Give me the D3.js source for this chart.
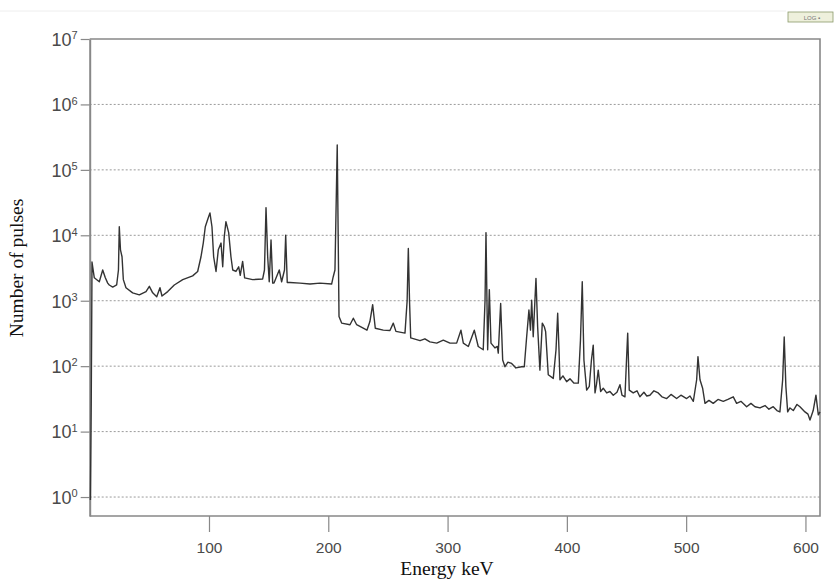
<!DOCTYPE html>
<html lang="en">
<head>
    <meta charset="UTF-8">
    <title>Gamma spectrum</title>
    <script src="https://d3js.org/d3.v7.min.js"></script>
    <style>
        body {
            margin: 0;
            background: #fff;
        }
        .tick text {
            font-family: 'Liberation Sans', Arial, sans-serif;
            fill: #4a4a4a;
        }
        .axis-title {
            font-family: 'Liberation Serif', 'Times New Roman', serif;
            font-size: 19.5px;
            fill: #111;
        }
    </style>
</head>
<body>
    <svg id="chart" width="834" height="580"></svg>

    <script>
        // spectrum: energy (keV) and number of pulses
        const energy = [
            0.6, 1.3, 1.8, 1.93, 3.86, 8.05, 10.9, 13.1, 15.1, 16.4, 19.3, 22.6, 24.1, 24.8, 25.8, 27.1, 28.2, 30.4,
            36.0, 41.6, 47.2, 50.0, 52.8, 56.2, 58.9, 60.6, 65.4, 70.9, 78.0, 86.3, 90.5, 93.3, 95.2, 96.9, 98.9,
            100.8, 102.5, 103.9, 105.9, 107.8, 110.1, 111.5, 112.8, 114.2, 116.5, 118.4, 119.9, 122.6, 124.9, 126.2,
            128.2, 129.9, 136.6, 145.0, 146.5, 147.8, 149.2, 150.5, 152.0, 153.4, 154.5, 158.9, 160.9, 163.3, 164.3,
            165.6, 167.9, 176.3, 184.7, 193.0, 202.8, 204.2, 205.6, 207.5, 209.0, 211.2, 218.2, 221.0, 223.8, 229.3,
            232.4, 234.9, 237.2, 239.4, 246.1, 251.7, 254.5, 256.7, 264.3, 266.1, 267.1, 268.1, 269.1, 276.9, 281.0,
            285.2, 290.9, 296.4, 302.0, 307.6, 311.2, 313.2, 317.4, 322.4, 325.7, 329.9, 331.4, 332.2, 333.6, 335.0,
            336.4, 339.7, 341.7, 342.5, 344.5, 346.2, 348.1, 350.6, 353.7, 357.3, 362.1, 364.3, 366.3, 368.2, 369.5,
            370.5, 371.8, 374.1, 375.5, 377.4, 379.4, 381.1, 382.2, 384.4, 388.6, 390.9, 392.3, 393.4, 394.2, 396.7,
            399.8, 402.6, 406.0, 409.6, 411.4, 412.9, 414.3, 416.6, 418.8, 420.6, 422.1, 423.6, 424.8, 426.3, 428.3,
            430.5, 433.4, 436.1, 438.9, 442.0, 444.5, 446.2, 448.7, 450.0, 451.0, 452.3, 455.6, 458.8, 461.2, 464.6,
            467.0, 469.6, 473.0, 476.6, 479.7, 483.7, 487.3, 492.0, 495.6, 500.4, 503.2, 506.0, 508.8, 509.9, 511.6,
            513.8, 515.8, 519.1, 522.7, 526.7, 531.1, 535.0, 539.5, 542.3, 545.9, 550.7, 554.3, 557.7, 561.9, 566.1,
            569.4, 573.0, 576.1, 578.6, 580.9, 582.2, 583.6, 585.1, 587.0, 589.8, 592.9, 595.4, 599.6, 602.1, 603.8,
            606.5, 608.8, 610.8, 612.2
        ];
        const counts = [
            0.9, 30, 1200, 3900, 2240, 1950, 2950, 2240, 1860, 1740, 1620, 1740, 2950, 13500, 6000, 4700, 2100, 1580,
            1320, 1230, 1380, 1660, 1320, 1150, 1580, 1180, 1380, 1740, 2100, 2400, 2800, 4700, 7600, 13500, 17400,
            22000, 13500, 4700, 2800, 6000, 7600, 3300, 9500, 16200, 11000, 4700, 2950, 2800, 3300, 2450,
            4000, 2240, 2100, 2150, 2950, 26500, 4700, 1950, 8500, 1860, 1860, 2950, 1950, 2950, 10000,
            1900, 1900, 1860, 1800, 1860, 1800, 2350, 2950, 240000, 575, 455, 430, 540, 430, 380,
            355, 480, 870, 380, 355, 350, 455, 340, 320, 1000, 6300, 1000, 270, 245, 262,
            235, 225, 250, 225, 225, 355, 225, 200, 355, 200, 178, 1000, 11000, 178, 1480,
            225, 190, 200, 158, 910, 124, 98, 115, 110, 94, 98, 98, 282, 720, 355,
            1020, 282, 2200, 400, 87, 455, 400, 337, 74, 65, 178, 645, 178, 62, 71,
            58, 64, 55, 55, 250, 1950, 124, 43, 49, 124, 210, 39, 52, 87, 41,
            46, 39, 41, 36, 40, 52, 36, 34, 124, 320, 43, 39, 42, 34, 40,
            35, 36, 42, 39, 34, 32, 37, 32, 36, 32, 35, 29, 62, 140, 62,
            46, 27, 30, 27, 31, 29, 31, 34, 27, 29, 24, 27, 24, 23, 25,
            22, 24, 21, 20, 62, 280, 49, 20, 23, 21, 26, 24, 20, 18.5, 15,
            21, 36, 18, 20
        ];

        const xTicks = [100, 200, 300, 400, 500, 600];
        const yExponents = [0, 1, 2, 3, 4, 5, 6, 7];

        const svg = d3.select("#chart");

        const x = d3.scaleLinear()
                    .domain([0, 612.2])
                    .range([89.7, 820]);

        const y = d3.scaleLog()
                    .domain([0.513, 1e7])
                    .range([516, 39]);

        // faint toolbar line and the LOG box in the corner
        svg.append("line")
           .attr("x1", 0).attr("x2", 786)
           .attr("y1", 11).attr("y2", 11)
           .attr("stroke", "#eeeeee");

        svg.append("rect")
           .attr("x", 788).attr("y", 12)
           .attr("width", 45).attr("height", 10)
           .attr("fill", "#eef0dc")
           .attr("stroke", "#8a9a6a")
           .attr("stroke-width", 0.8);

        svg.append("text")
           .attr("x", 812).attr("y", 20)
           .attr("text-anchor", "middle")
           .style("font-family", "'Liberation Sans', Arial, sans-serif")
           .style("font-size", "6px")
           .style("fill", "#777")
           .text("LOG ▪");

        // dotted gridlines per decade
        svg.append("g")
           .selectAll("line")
           .data(yExponents.slice(0, -1))
           .enter()
           .append("line")
           .attr("x1", x.range()[0])
           .attr("x2", x.range()[1])
           .attr("y1", d => y(Math.pow(10, d)))
           .attr("y2", d => y(Math.pow(10, d)))
           .attr("stroke", "#9a9a9a")
           .attr("stroke-width", 1)
           .attr("stroke-dasharray", "2,2");

        // frame (top, right, bottom)
        svg.append("path")
           .attr("d", `M${x.range()[0]},${y.range()[1]}H${x.range()[1]}V${y.range()[0]}H${x.range()[0]}`)
           .attr("fill", "none")
           .attr("stroke", "#888")
           .attr("stroke-width", 1.6);

        // y axis
        const yAxis = svg.append("g")
           .attr("transform", `translate(${x.range()[0]},0)`)
           .call(d3.axisLeft(y)
                   .tickValues(yExponents.map(e => Math.pow(10, e)))
                   .tickSize(9)
                   .tickSizeOuter(0)
                   .tickFormat(""));

        yAxis.select(".domain").attr("stroke", "#888").attr("stroke-width", 2);
        yAxis.selectAll(".tick line").attr("stroke", "#888").attr("stroke-width", 1.2);

        yAxis.selectAll(".tick text")
             .attr("x", -12)
             .attr("dy", "0.35em")
             .style("font-size", "18px")
             .each(function(d) {
                 const t = d3.select(this);
                 t.append("tspan").text("10");
                 t.append("tspan")
                  .attr("dy", "-0.6em")
                  .style("font-size", "11px")
                  .text(Math.round(Math.log10(d)));
             });

        // x axis
        const xAxis = svg.append("g")
           .attr("transform", `translate(0,${y.range()[0]})`)
           .call(d3.axisBottom(x)
                   .tickValues(xTicks)
                   .tickSize(16)
                   .tickSizeOuter(0)
                   .tickPadding(10));

        xAxis.select(".domain").remove();
        xAxis.selectAll(".tick line").attr("stroke", "#888").attr("stroke-width", 1.2);
        xAxis.selectAll(".tick text").style("font-size", "15.5px");

        // spectrum
        const spectrum = energy.map((e, i) => ({ e: e, c: counts[i] }));

        const line = d3.line()
                       .x(d => x(d.e))
                       .y(d => y(d.c));

        svg.append("path")
           .datum(spectrum)
           .attr("fill", "none")
           .attr("stroke", "#333")
           .attr("stroke-width", 1.4)
           .attr("stroke-linejoin", "round")
           .attr("d", line);

        // axis titles
        svg.append("text")
           .attr("class", "axis-title")
           .attr("x", 447)
           .attr("y", 575)
           .attr("text-anchor", "middle")
           .text("Energy keV");

        svg.append("text")
           .attr("class", "axis-title")
           .attr("transform", "translate(23,268) rotate(-90)")
           .attr("text-anchor", "middle")
           .text("Number of pulses");
    </script>
</body>
</html>
